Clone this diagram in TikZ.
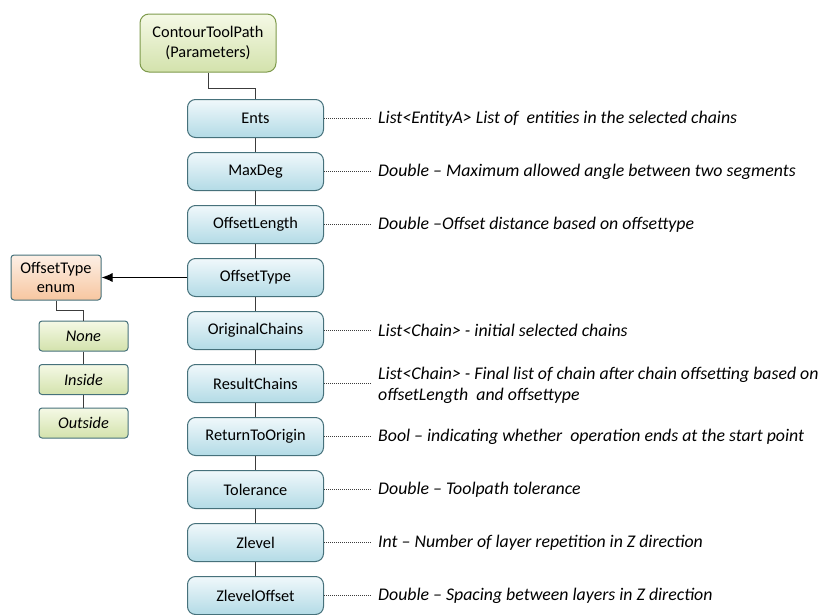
\documentclass[tikz,border=0pt]{standalone}
\usepackage{fontspec}
\setmainfont{Carlito}
\usetikzlibrary{arrows.meta,positioning}

\definecolor{pborder}{HTML}{46717B}
\definecolor{gborder}{HTML}{7E9A4C}
\definecolor{ptop}{HTML}{F0F8FB}
\definecolor{pbot}{HTML}{B3DBE6}
\definecolor{gtop}{HTML}{F5F9E6}
\definecolor{gbot}{HTML}{D3E2AC}
\definecolor{otop}{HTML}{FDF0E6}
\definecolor{obot}{HTML}{F7C6A0}
\definecolor{lnk}{HTML}{3C3C3C}

\begin{document}
\begin{tikzpicture}[x=1pt,y=-1pt]
	\tikzstyle{pnode}=[draw=pborder, line width=1pt, shape=rectangle, rounded corners=8pt, top color=ptop, bottom color=pbot, minimum width=136pt, minimum height=38pt, inner sep=1pt, font=\fontsize{16.3}{19.5}\selectfont];
	\tikzstyle{rnode}=[pnode, draw=gborder, top color=gtop, bottom color=gbot, minimum width=136pt, minimum height=58pt, align=center, rounded corners=9pt];
	\tikzstyle{enode}=[pnode, top color=otop, bottom color=obot, minimum width=90pt, minimum height=45pt, align=center, rounded corners=3pt];
	\tikzstyle{vnode}=[pnode, top color=gtop, bottom color=gbot, minimum width=89pt, minimum height=30pt, rounded corners=3pt, font=\fontsize{16.3}{19.5}\selectfont\itshape];
	\tikzstyle{dnode}=[anchor=west, inner xsep=6pt, inner ysep=0pt, align=left, font=\fontsize{17.8}{21.5}\selectfont\itshape];
	\tikzstyle{link}=[draw=lnk, line width=1pt];
	\tikzstyle{dots}=[draw=lnk, line width=0.7pt, dash pattern=on 1pt off 1pt];

	\useasboundingbox (0,0) rectangle (823,614);

	% root and its parameters
	\node[rnode] (root) at (208,43) {ContourToolPath\\(Parameters)};

	\node[pnode] (ents) at (255.5,118.5) {Ents};
	\node[pnode] (maxdeg) at (255.5,171.5) {MaxDeg};
	\node[pnode] (offlen) at (255.5,224.5) {OffsetLength};
	\node[pnode] (offtype) at (255.5,277.5) {OffsetType};
	\node[pnode] (orig) at (255.5,330.5) {OriginalChains};
	\node[pnode] (result) at (255.5,383.5) {ResultChains};
	\node[pnode] (retorig) at (255.5,436.5) {ReturnToOrigin};
	\node[pnode] (tol) at (255.5,489.5) {Tolerance};
	\node[pnode] (zlevel) at (255.5,542.5) {Zlevel};
	\node[pnode] (zoffset) at (255.5,595.5) {ZlevelOffset};

	% enum values of the offset type
	\node[enode] (enum) at (56,277.5) {OffsetType\\enum};
	\node[vnode] (none) at (83.5,336) {None};
	\node[vnode] (inside) at (83.5,379.5) {Inside};
	\node[vnode] (outside) at (83.5,423) {Outside};

	% descriptions
	\node[dnode] (d-ents) at (372,118.5) {List<EntityA> List of \ entities in the selected chains};
	\node[dnode] (d-maxdeg) at (372,171.5) {Double -- Maximum allowed angle between two segments};
	\node[dnode] (d-offlen) at (372,224.5) {Double --Offset distance based on offsettype};
	\node[dnode] (d-orig) at (372,330.5) {List<Chain> - initial selected chains};
	\node[dnode] (d-result) at (372,385.5) {List<Chain> - Final list of chain after chain offsetting based on\\offsetLength \ and offsettype};
	\node[dnode] (d-retorig) at (372,436.5) {Bool -- indicating whether \ operation ends at the start point};
	\node[dnode] (d-tol) at (372,489.5) {Double -- Toolpath tolerance};
	\node[dnode] (d-zlevel) at (372,542.5) {Int -- Number of layer repetition in Z direction};
	\node[dnode] (d-zoffset) at (372,595.5) {Double -- Spacing between layers in Z direction};

	% tree lines
	\draw[link] (root.south) -- ++(0,16) -| (ents.north);
	\draw[link] (ents) -- (maxdeg);
	\draw[link] (maxdeg) -- (offlen);
	\draw[link] (offlen) -- (offtype);
	\draw[link] (offtype) -- (orig);
	\draw[link] (orig) -- (result);
	\draw[link] (result) -- (retorig);
	\draw[link] (retorig) -- (tol);
	\draw[link] (tol) -- (zlevel);
	\draw[link] (zlevel) -- (zoffset);

	\draw[link, draw=black, -{Latex[length=11pt,width=9pt]}] (offtype.west) -- (enum.east);
	\draw[link] (enum.south) -- ++(0,10) -| (none.north);
	\draw[link] (none) -- (inside);
	\draw[link] (inside) -- (outside);

	% dotted leaders
	\draw[dots] (ents.east) -- (d-ents.west);
	\draw[dots] (maxdeg.east) -- (d-maxdeg.west);
	\draw[dots] (offlen.east) -- (d-offlen.west);
	\draw[dots] (orig.east) -- (d-orig.west);
	\draw[dots] (result.east) -- (result.east -| d-result.west);
	\draw[dots] (retorig.east) -- (d-retorig.west);
	\draw[dots] (tol.east) -- (d-tol.west);
	\draw[dots] (zlevel.east) -- (d-zlevel.west);
	\draw[dots] (zoffset.east) -- (d-zoffset.west);

\end{tikzpicture}
\end{document}
